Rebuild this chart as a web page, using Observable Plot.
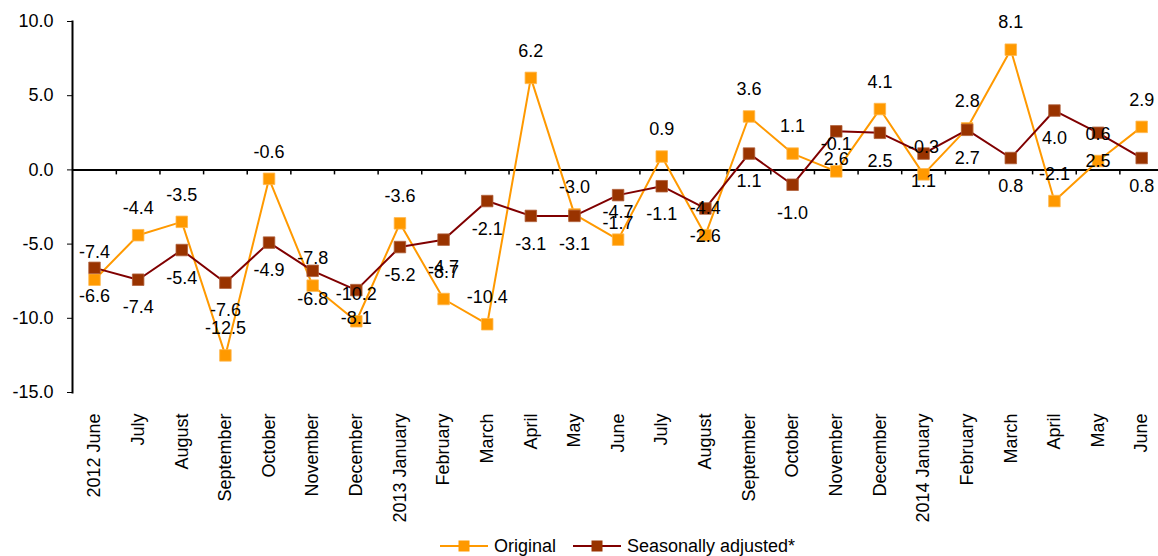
<!DOCTYPE html>
<html><head><meta charset="utf-8">
<script src="https://cdn.jsdelivr.net/npm/d3@7"></script>
<script src="https://cdn.jsdelivr.net/npm/@observablehq/plot@0.6"></script>
<style>
body{margin:0;background:#fff;font-family:"Liberation Sans",Arial,sans-serif;width:1158px;height:556px;overflow:hidden;}
#legend{position:relative;height:28px;width:1158px;font-size:18px;color:#000;}
#legend .item{position:absolute;top:7px;display:flex;align-items:center;height:22px;}
#legend svg{margin-right:6px;}
</style></head><body>
<div id="chart"></div>
<div id="legend"></div>
<script>
const months = ["2012 June","July","August","September","October","November","December","2013 January","February","March","April","May","June","July","August","September","October","November","December","2014 January","February","March","April","May","June"];
const original = [-7.4,-4.4,-3.5,-12.5,-0.6,-7.8,-10.2,-3.6,-8.7,-10.4,6.2,-3.0,-4.7,0.9,-4.4,3.6,1.1,-0.1,4.1,-0.3,2.8,8.1,-2.1,0.6,2.9];
const seasonal = [-6.6,-7.4,-5.4,-7.6,-4.9,-6.8,-8.1,-5.2,-4.7,-2.1,-3.1,-3.1,-1.7,-1.1,-2.6,1.1,-1.0,2.6,2.5,1.1,2.7,0.8,4.0,2.5,0.8];
const yTicks = [10,5,0,-5,-10,-15];
const seriesNames = ["Original","Seasonally adjusted*"];

const ORANGE = "#FF9900", LINE_RED = "#800000", MARK_RED = "#993300";
const idx = months.map((_, i) => i);
const boundaries = idx.slice(1).map(i => i - 0.5);

const chart = Plot.plot({
  width: 1158, height: 528,
  marginLeft: 72, marginRight: 0, marginTop: 21, marginBottom: 136,
  style: {fontFamily: "Liberation Sans, Arial, sans-serif", fontSize: "18px", color: "#000", background: "#fff"},
  x: {type: "linear", domain: [-0.5, months.length - 0.5], range: [72.2, 1163]},
  y: {domain: [-15, 10]},
  marks: [
    Plot.frame({anchor: "left", strokeWidth: 2}),
    Plot.ruleY([0], {strokeWidth: 2}),
    Plot.ruleX(boundaries, {x: d => d, y1: 0, y2: 0, insetBottom: -5, strokeWidth: 1.5}),
    Plot.axisY({ticks: yTicks, tickFormat: d => d.toFixed(1), tickSize: 5, tickPadding: 14, label: null, fontSize: 18}),
    Plot.axisX({ticks: idx, tickFormat: i => months[i], tickRotate: -90, tickSize: 0, tickPadding: 21, label: null, fontSize: 18}),
    Plot.line(idx, {x: i => i, y: i => original[i], stroke: ORANGE, strokeWidth: 2}),
    Plot.dot(idx, {x: i => i, y: i => original[i], symbol: "square", r: 6.5, fill: ORANGE, stroke: "#FFB84D", strokeWidth: 0.8}),
    Plot.line(idx, {x: i => i, y: i => seasonal[i], stroke: LINE_RED, strokeWidth: 2}),
    Plot.dot(idx, {x: i => i, y: i => seasonal[i], symbol: "square", r: 6.5, fill: MARK_RED, stroke: "#B0603A", strokeWidth: 0.8}),
    Plot.text(idx, {x: i => i, y: i => original[i], text: i => original[i].toFixed(1), dy: -27, fontSize: 18, fill: "#000"}),
    Plot.text(idx, {x: i => i, y: i => seasonal[i], text: i => seasonal[i].toFixed(1), dy: 28, fontSize: 18, fill: "#000"})
  ]
});
document.getElementById("chart").appendChild(chart);

const legend = document.getElementById("legend");
const specs = [{name: seriesNames[0], line: ORANGE, mark: ORANGE, left: 440}, {name: seriesNames[1], line: LINE_RED, mark: MARK_RED, left: 573}];
for (const s of specs) {
  const item = document.createElement("div");
  item.className = "item";
  item.style.left = s.left + "px";
  item.innerHTML = `<svg width="48" height="14"><line x1="0" y1="7" x2="48" y2="7" stroke="${s.line}" stroke-width="2"/><rect x="18.5" y="1.5" width="11" height="11" fill="${s.mark}"/></svg><span>${s.name}</span>`;
  legend.appendChild(item);
}
</script>
</body></html>
